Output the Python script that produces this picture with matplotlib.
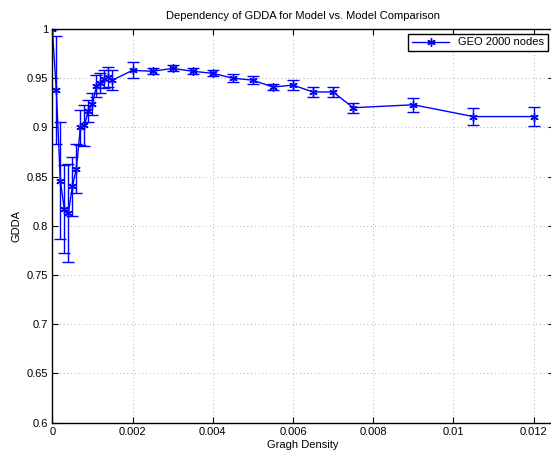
import matplotlib
matplotlib.use("Agg")
import matplotlib.pyplot as plt
from matplotlib.lines import Line2D

plt.rcParams["font.family"] = ["Liberation Sans", "DejaVu Sans"]

# GDDA vs graph density, mean and spread over runs
density = [0.0, 0.0001, 0.0002, 0.0003, 0.0004, 0.0005, 0.0006, 0.0007, 0.0008,
           0.0009, 0.001, 0.0011, 0.0012, 0.0013, 0.0014, 0.0015, 0.002, 0.0025,
           0.003, 0.0035, 0.004, 0.0045, 0.005, 0.0055, 0.006, 0.0065, 0.007,
           0.0075, 0.009, 0.0105, 0.012]
gdda = [1.0, 0.938, 0.846, 0.817, 0.813, 0.840, 0.858, 0.900, 0.902,
        0.917, 0.924, 0.942, 0.945, 0.949, 0.951, 0.948, 0.958, 0.957,
        0.960, 0.957, 0.955, 0.950, 0.948, 0.941, 0.943, 0.936, 0.936,
        0.920, 0.923, 0.911, 0.911]
gdda_err = [0.0, 0.055, 0.059, 0.045, 0.050, 0.030, 0.025, 0.018, 0.021,
            0.011, 0.011, 0.011, 0.010, 0.009, 0.010, 0.010, 0.008, 0.003,
            0.003, 0.003, 0.003, 0.004, 0.004, 0.003, 0.005, 0.005, 0.005,
            0.005, 0.007, 0.009, 0.010]

fig = plt.figure(figsize=(5.51, 4.55), dpi=100)
ax = fig.add_axes([0.0949, 0.071, 0.91, 0.8653])

asterisk = (6, 2, 0)
ax.errorbar(density, gdda, yerr=gdda_err, color="#0000ff", lw=1.0,
            marker=asterisk, markersize=6, markeredgewidth=1.0,
            capsize=4, elinewidth=1.0, capthick=1.0)

ax.set_xlim(0, 0.0125)
ax.set_ylim(0.6, 1.0)
ax.set_xticks([0, 0.002, 0.004, 0.006, 0.008, 0.01, 0.012])
ax.set_xticklabels(["0", "0.002", "0.004", "0.006", "0.008", "0.01", "0.012"])
ax.set_yticks([0.6, 0.65, 0.7, 0.75, 0.8, 0.85, 0.9, 0.95, 1.0])
ax.set_yticklabels(["0.6", "0.65", "0.7", "0.75", "0.8", "0.85", "0.9", "0.95", "1"])
ax.tick_params(direction="in", top=True, right=True, labelsize=8, length=4, pad=3)
ax.grid(True, ls=(0, (1, 3.5)), color="#999999", lw=0.6)
for s in ax.spines.values():
    s.set_linewidth(1.0)

ax.set_xlabel("Gragh Density", fontsize=8, labelpad=2)
ax.set_ylabel("GDDA", fontsize=8, labelpad=4)
ax.set_title("Dependency of GDDA for Model vs. Model Comparison", fontsize=8, pad=7)

# legend entry shows only the line and marker
handle = Line2D([], [], color="#0000ff", lw=1.0, marker=asterisk,
                markersize=6, markeredgewidth=1.0)
leg = ax.legend([handle], ["GEO 2000 nodes"], loc="upper right", fontsize=8,
                fancybox=False, framealpha=1, edgecolor="black",
                handlelength=3.4, borderpad=0.3, borderaxespad=0,
                bbox_to_anchor=(0.988, 0.987))
leg.get_frame().set_linewidth(1.0)

fig.savefig("out.png", dpi=100)
